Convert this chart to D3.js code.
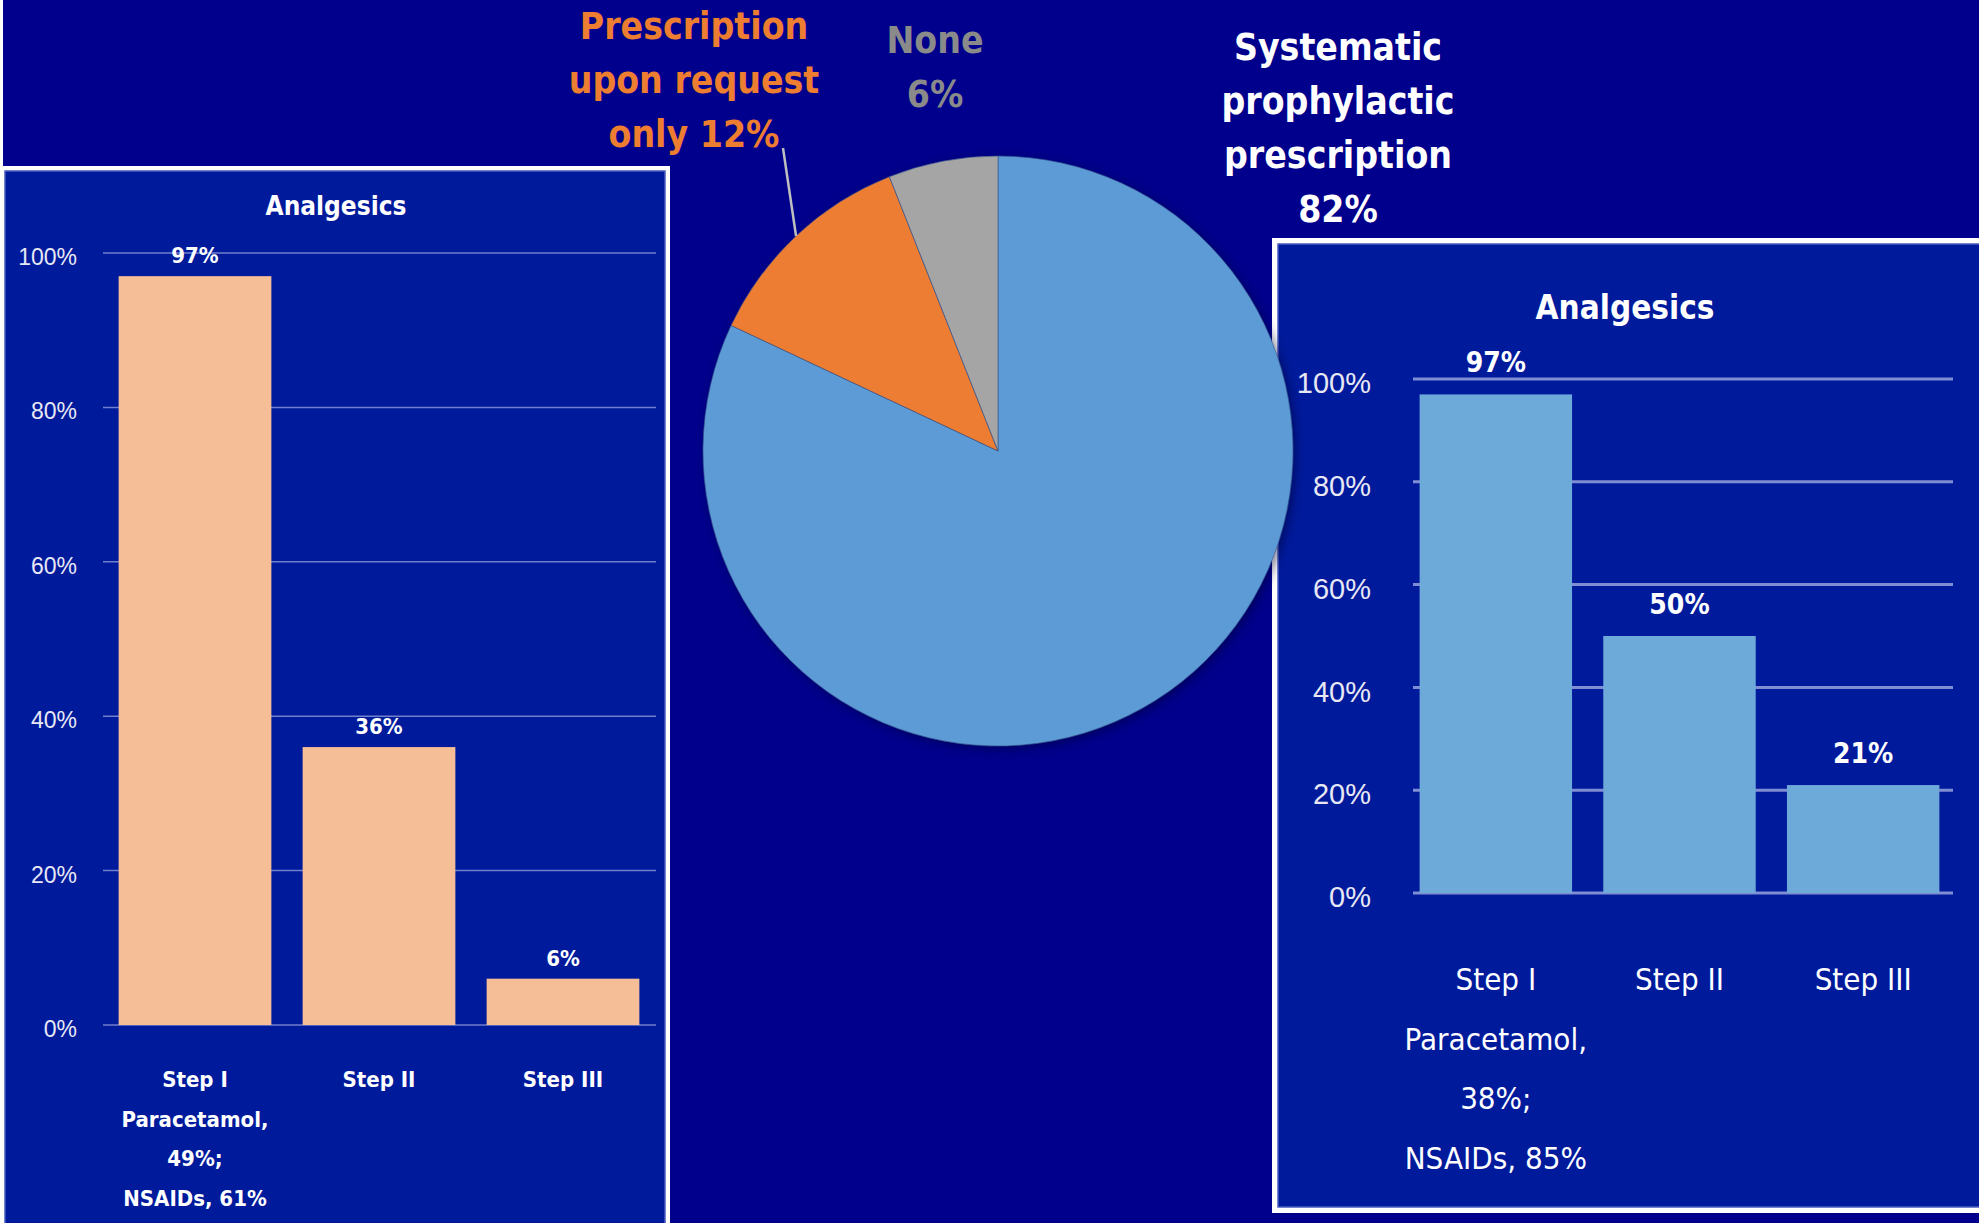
<!DOCTYPE html>
<html>
<head>
<meta charset="utf-8">
<title>Analgesics prescription</title>
<script src="https://cdn.jsdelivr.net/npm/d3@7"></script>
<style>
body {
    margin: 0;
    background-color: #00008c;
    overflow: hidden;
}
svg {
    display: block;
    font-family: "DejaVu Sans Condensed", "DejaVu Sans", sans-serif;
    font-stretch: condensed;
}
</style>
</head>
<body>
<svg id="chart" width="1979" height="1223"></svg>
<script>
// pie: how analgesics were prescribed
var pieNames = ["Systematic prophylactic prescription", "Prescription upon request only", "None"];
var pieValues = [82, 12, 6];
var pieColors = ["#5B9BD5", "#ED7D31", "#A5A5A5"];
// label lines, the percent is added to the last line
var pieLabelLines = [
    ["Systematic", "prophylactic", "prescription", ""],
    ["Prescription", "upon request", "only "],
    ["None", ""]
];

// bar charts
var steps = ["Step I", "Step II", "Step III"];
var leftValues = [97, 36, 6];
var rightValues = [97, 50, 21];
var leftNotes = [["Paracetamol,", "49%;", "NSAIDs, 61%"], [], []];
var rightNotes = [["Paracetamol,", "38%;", "NSAIDs, 85%"], [], []];
var yTicks = [0, 20, 40, 60, 80, 100];

var svg = d3.select("#chart");

// background + panels
svg.append("rect").attr("width", 1979).attr("height", 1223).attr("fill", "#00008c");
svg.append("rect").attr("x", 0).attr("y", 0).attr("width", 3).attr("height", 1223).attr("fill", "#fff");

function panel(x, y, w, h, pad) {
    svg.append("rect").attr("x", x).attr("y", y).attr("width", w).attr("height", h).attr("fill", "#fff");
    svg.append("rect").attr("x", x + pad).attr("y", y + pad)
        .attr("width", w - 2 * pad).attr("height", h - 2 * pad)
        .attr("fill", "#001a9c").attr("stroke", "#4a5cc0").attr("stroke-width", 1.5);
}
panel(0, 166, 670, 1070, 5);
panel(1272, 238, 720, 975, 6);

function drawBars(cfg) {
    var g = svg.append("g");
    var x = d3.scaleBand().domain(steps).range(cfg.xRange).paddingInner(0.17).paddingOuter(0.085);
    var y = d3.scaleLinear().domain([0, 100]).range(cfg.yRange);

    g.append("text")
        .attr("x", cfg.titleX).attr("y", cfg.titleY)
        .attr("text-anchor", "middle").attr("fill", "#fff")
        .attr("font-size", cfg.titleSize).attr("font-weight", "bold")
        .text("Analgesics");

    // gridlines
    g.selectAll(".grid").data(yTicks).enter().append("line")
        .attr("x1", cfg.gridX[0]).attr("x2", cfg.gridX[1])
        .attr("y1", function(d) { return y(d); })
        .attr("y2", function(d) { return y(d); })
        .attr("stroke", cfg.gridColor).attr("stroke-width", cfg.gridWidth);

    var yAxis = d3.axisLeft(y).tickValues(yTicks).tickSize(0).tickPadding(0)
        .tickFormat(function(d) { return d + "%"; });
    var ag = g.append("g").attr("transform", "translate(" + cfg.tickX + ",0)").call(yAxis);
    ag.select(".domain").remove();
    ag.selectAll("text")
        .attr("fill", "#e8e8f4").attr("font-size", cfg.tickSize)
        .attr("font-family", null).attr("dy", cfg.tickDy);

    g.selectAll(".bar").data(cfg.values).enter().append("rect")
        .attr("x", function(d, i) { return x(steps[i]); })
        .attr("y", function(d) { return y(d); })
        .attr("width", x.bandwidth())
        .attr("height", function(d) { return y(0) - y(d); })
        .attr("fill", cfg.barColor);

    g.selectAll(".val").data(cfg.values).enter().append("text")
        .attr("x", function(d, i) { return x(steps[i]) + x.bandwidth() / 2; })
        .attr("y", function(d) { return y(d) - cfg.valueGap; })
        .attr("text-anchor", "middle").attr("fill", "#fff")
        .attr("font-size", cfg.valueSize).attr("font-weight", "bold")
        .text(function(d) { return d + "%"; });

    steps.forEach(function(s, i) {
        var lines = [s].concat(cfg.notes[i]);
        var t = g.append("text")
            .attr("text-anchor", "middle").attr("fill", "#fff")
            .attr("font-size", cfg.catSize).attr("font-weight", cfg.catWeight);
        lines.forEach(function(l, j) {
            t.append("tspan")
                .attr("x", x(s) + x.bandwidth() / 2)
                .attr("y", cfg.catY + j * cfg.catStep)
                .text(l);
        });
    });
}

drawBars({
    values: leftValues, notes: leftNotes,
    xRange: [103, 655], yRange: [1025, 253], gridX: [103, 656],
    gridColor: "rgba(190,195,235,0.6)", gridWidth: 1.5,
    barColor: "#F5BE96",
    titleX: 336, titleY: 215, titleSize: 26,
    tickX: 77, tickSize: 23, tickDy: "0.5em",
    valueSize: 22, valueGap: 13,
    catY: 1087, catStep: 39.5, catSize: 22, catWeight: "bold"
});

drawBars({
    values: rightValues, notes: rightNotes,
    xRange: [1404, 1955], yRange: [893, 379], gridX: [1413, 1953],
    gridColor: "rgba(170,180,230,0.75)", gridWidth: 3,
    barColor: "#6DA9D9",
    titleX: 1625, titleY: 319, titleSize: 33,
    tickX: 1371, tickSize: 29, tickDy: "0.47em",
    valueSize: 28, valueGap: 22,
    catY: 990, catStep: 59.5, catSize: 31, catWeight: "normal"
});

// pie
var cx = 998, cy = 451, r = 295;
var defs = svg.append("defs");
var f = defs.append("filter").attr("id", "shadow").attr("x", "-10%").attr("y", "-10%")
    .attr("width", "120%").attr("height", "120%");
f.append("feDropShadow").attr("dx", 3).attr("dy", 3).attr("stdDeviation", 5)
    .attr("flood-color", "#000030").attr("flood-opacity", 0.5);

var pie = d3.pie().sort(null);
var arcs = pie(pieValues);
var arc = d3.arc().innerRadius(0).outerRadius(r);
var pg = svg.append("g").attr("transform", "translate(" + cx + "," + cy + ")");
pg.append("g").attr("filter", "url(#shadow)")
    .selectAll("path").data(arcs).enter().append("path")
    .attr("d", arc)
    .attr("fill", function(d, i) { return pieColors[i]; })
    .attr("stroke", "#34508a").attr("stroke-width", 0.6);

// leader line for the orange slice
var a = arcs[1], mid = (a.startAngle + a.endAngle) / 2;
svg.append("line")
    .attr("x1", 783).attr("y1", 148)
    .attr("x2", cx + r * Math.sin(mid)).attr("y2", cy - r * Math.cos(mid))
    .attr("stroke", "#BFBFBF").attr("stroke-width", 2.5);

var labelPos = [
    { x: 1338, y: 60, color: "#ffffff" },
    { x: 694, y: 39, color: "#ED7D31" },
    { x: 935, y: 53, color: "#8a8a8a" }
];
pieLabelLines.forEach(function(lines, i) {
    var t = svg.append("text")
        .attr("text-anchor", "middle").attr("fill", labelPos[i].color)
        .attr("font-size", 37).attr("font-weight", "bold");
    lines.forEach(function(l, j) {
        if (j == lines.length - 1) l = l + pieValues[i] + "%";
        t.append("tspan").attr("x", labelPos[i].x).attr("y", labelPos[i].y + j * 54).text(l);
    });
});
</script>
</body>
</html>
